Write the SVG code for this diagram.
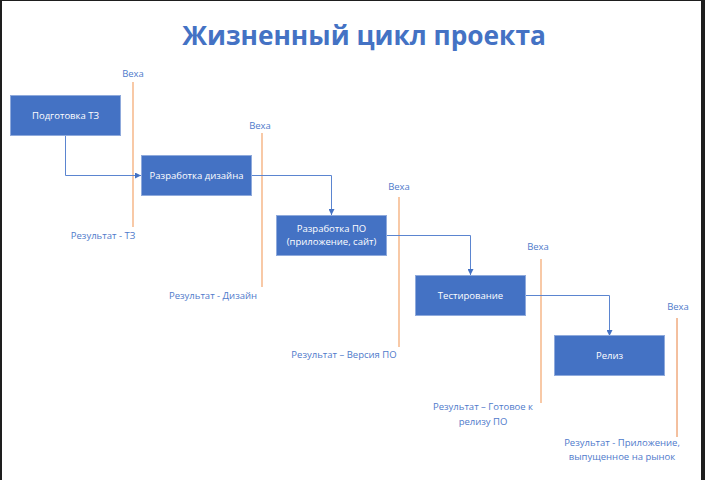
<svg xmlns="http://www.w3.org/2000/svg" width="705" height="480" viewBox="0 0 705 480">
<defs>
<marker id="arr" viewBox="0 0 6 6" refX="6" refY="3" markerWidth="6" markerHeight="6" markerUnits="userSpaceOnUse" orient="auto">
<path d="M0,0 L6,3 L0,6 Z" fill="#4472C4"/>
</marker>
<style>
.box{fill:#4472C4;stroke:#8FAADC;stroke-width:1}
.bt{font-family:"Open Sans","Liberation Sans",sans-serif;font-size:9.5px;fill:#FFFFFF;text-anchor:middle}
.lbl{font-family:"Open Sans","Liberation Sans",sans-serif;font-size:9.5px;fill:#4F7ACB;text-anchor:middle}
.ms{stroke:#F4A56C;stroke-width:1.2;fill:none}
.ms2{stroke:#E8803E;stroke-width:1;fill:none}
.con{stroke:#5B85D0;stroke-width:1;fill:none;marker-end:url(#arr)}
</style>
</defs>
<rect x="0" y="0" width="705" height="480" fill="#FFFFFF"/>
<rect x="0" y="0" width="2" height="480" fill="#1E1E1E"/>
<rect x="0" y="0" width="705" height="1" fill="#1E1E1E"/>
<rect x="701" y="0" width="4" height="480" fill="#1E1E1E"/>
<text x="364" y="45" font-family="'Open Sans','Liberation Sans',sans-serif" font-size="26.3" font-weight="bold" fill="#4472C4" text-anchor="middle">Жизненный цикл проекта</text>

<g id="milestones">
<line class="ms" x1="133" y1="82" x2="133" y2="227"/>
<line class="ms" x1="262" y1="133" x2="262" y2="287"/>
<line class="ms" x1="399" y1="197" x2="399" y2="347"/>
<line class="ms" x1="541" y1="259" x2="541" y2="403"/>
<line class="ms2" x1="677" y1="318" x2="677" y2="437"/>
<text class="lbl" x="133" y="77">Веха</text>
<text class="lbl" x="260" y="129">Веха</text>
<text class="lbl" x="399" y="190">Веха</text>
<text class="lbl" x="538" y="250">Веха</text>
<text class="lbl" x="678" y="310">Веха</text>
<text class="lbl" x="103" y="239">Результат - ТЗ</text>
<text class="lbl" x="213" y="299">Результат - Дизайн</text>
<text class="lbl" x="344" y="358">Результат – Версия ПО</text>
<text class="lbl" x="483" y="410">Результат – Готовое к</text>
<text class="lbl" x="483" y="425">релизу ПО</text>
<text class="lbl" x="622" y="446">Результат - Приложение,</text>
<text class="lbl" x="622" y="460">выпущенное на рынок</text>
</g>

<g id="connectors">
<path class="con" d="M65.5,135 V175.5 H141"/>
<path class="con" d="M251,175.5 H331.5 V215"/>
<path class="con" d="M386,235.5 H470.5 V275"/>
<path class="con" d="M525,295.5 H609.5 V336"/>
</g>

<g id="n1"><rect class="box" x="10.5" y="95.5" width="110" height="40"/><text class="bt" x="65.5" y="119">Подготовка ТЗ</text></g>
<g id="n2"><rect class="box" x="141.5" y="155.5" width="110" height="40"/><text class="bt" x="196.5" y="179">Разработка дизайна</text></g>
<g id="n3"><rect class="box" x="276.5" y="215.5" width="110" height="40"/><text class="bt" x="331.5" y="232">Разработка ПО</text><text class="bt" x="331.5" y="245">(приложение, сайт)</text></g>
<g id="n4"><rect class="box" x="415.5" y="275.5" width="110" height="40"/><text class="bt" x="470.5" y="299">Тестирование</text></g>
<g id="n5"><rect class="box" x="554.5" y="335.5" width="110" height="40"/><text class="bt" x="609.5" y="359">Релиз</text></g>
</svg>
